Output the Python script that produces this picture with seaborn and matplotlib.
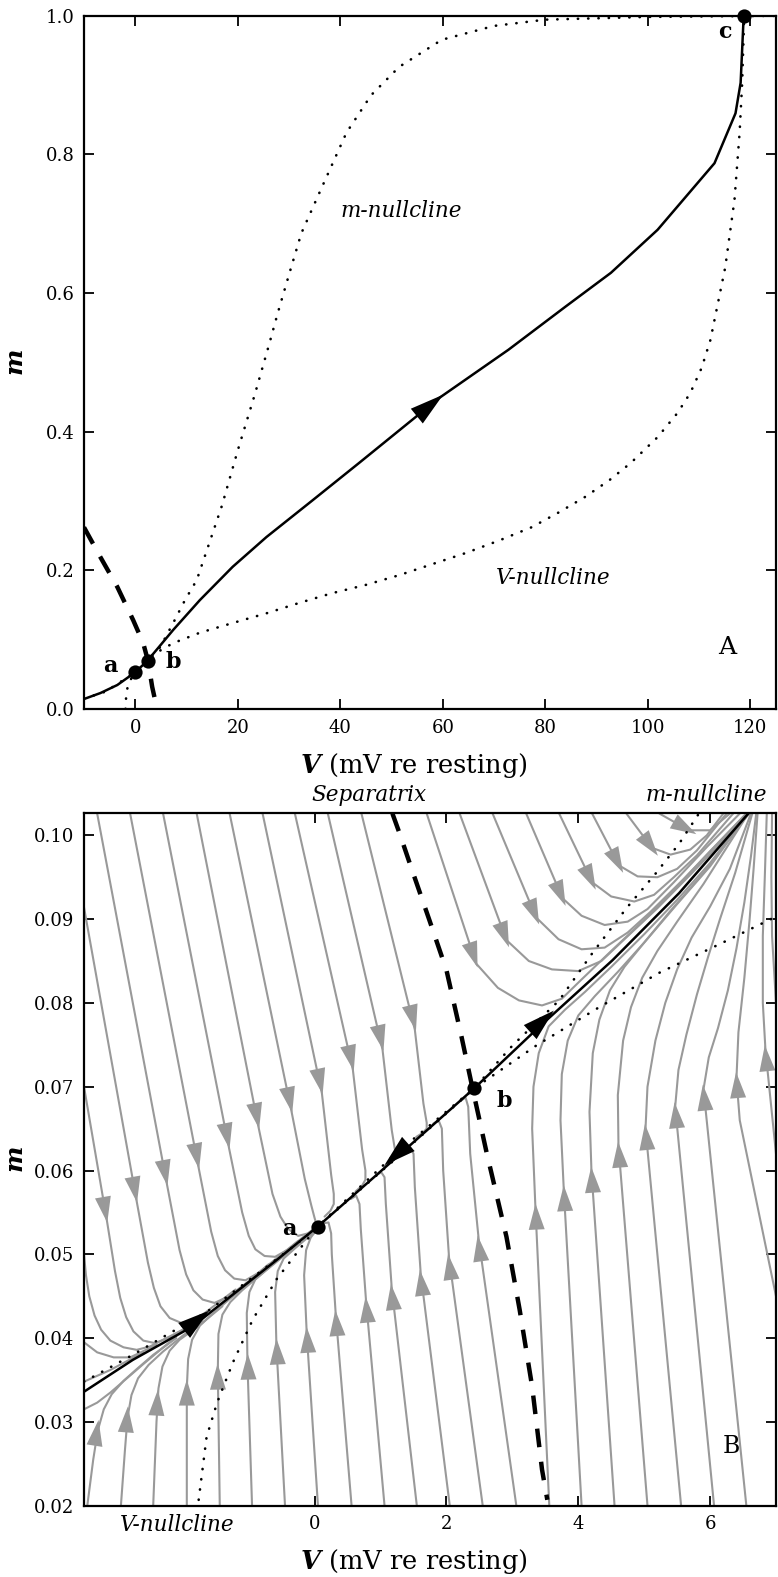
import numpy as np
import pandas as pd
import matplotlib
matplotlib.use('Agg')
import matplotlib.pyplot as plt
import seaborn as sns
from matplotlib.patches import Polygon
from matplotlib.transforms import IdentityTransform, blended_transform_factory

sns.set_theme(style='ticks')
plt.rcParams['font.family'] = ['DejaVu Serif']
plt.rcParams['text.color'] = 'black'
plt.rcParams['mathtext.fontset'] = 'custom'
plt.rcParams['mathtext.rm'] = 'DejaVu Serif'
plt.rcParams['mathtext.it'] = 'DejaVu Serif:italic'
plt.rcParams['mathtext.bf'] = 'DejaVu Serif:italic:bold'

# ---------------- panel A : whole V-m plane ----------------
a_mnull_V = [-10, -5.8, 0, 4.85, 7.4, 9.7, 12.0, 14.2, 16.9, 20.0, 23.3, 26.2, 27.8, 30.1,
             32.4, 35.9, 41.2, 46.0, 51.5, 59.8, 70, 80, 100, 125]
a_mnull_m = [0.015, 0.025, 0.053, 0.089, 0.124, 0.157, 0.186, 0.234, 0.293, 0.373, 0.453, 0.528,
             0.571, 0.629, 0.686, 0.744, 0.831, 0.885, 0.926, 0.965, 0.985, 0.994, 0.998, 0.9995]

a_vnull_V = [-1.9, -1.76, -1.48, -0.94, 0.05, 2.42, 5.0, 7.4, 12.6, 19.0, 25.6, 32.0, 38.4, 45.0,
             51.5, 58, 64.5, 71, 77.3, 82.5, 87.8, 92.5, 96.7, 101.9, 105.8, 108.3, 110.5, 112.2,
             115.1, 116.9, 117.9, 118.4, 118.8]
a_vnull_m = [0.0, 0.021, 0.032, 0.042, 0.053, 0.070, 0.085, 0.095, 0.110, 0.124, 0.138, 0.153,
             0.167, 0.179, 0.193, 0.209, 0.225, 0.243, 0.262, 0.283, 0.306, 0.330, 0.355, 0.392,
             0.427, 0.456, 0.492, 0.532, 0.637, 0.734, 0.831, 0.903, 1.0]

a_traj_V = [-10, -6.8, -3.5, 0.0, 2.4, 7.4, 12.6, 19.0, 25.6, 34.6, 43.7, 59.2, 72.8, 83.9,
            92.8, 101.9, 113.0, 117.1, 118.1, 118.7]
a_traj_m = [0.0144, 0.023, 0.0346, 0.053, 0.0698, 0.114, 0.157, 0.205, 0.248, 0.301, 0.355,
            0.448, 0.518, 0.580, 0.629, 0.691, 0.787, 0.859, 0.903, 1.0]

a_sep_V = [-10, -6.8, -3.5, -0.4, 1.55, 2.5, 3.3, 4.25]
a_sep_m = [0.262, 0.219, 0.176, 0.128, 0.095, 0.069, 0.032, 0.0]

a_points_V = [0.0, 2.42, 118.7]
a_points_m = [0.053, 0.0698, 1.0]
a_arrow = (57.5, 0.4378)

# ---------------- panel B : close-up near rest ----------------
b_traj_V = [-3.5, -2.76, -1.85, -1.24, -0.58, 0.045, 1.03, 2.42, 3.36, 4.52, 5.53, 6.58]
b_traj_m = [0.0336, 0.0374, 0.0414, 0.0452, 0.0493, 0.0533, 0.0601, 0.0698, 0.0768, 0.0851,
            0.0931, 0.1026]

b_mnull_V = [-3.5, -3.36, -2.76, -2.24, -1.64, -0.83, -0.23, 0.045, 1.2, 2.42, 3.0, 3.71, 4.21,
             4.73, 5.18, 5.53, 5.83]
b_mnull_m = [0.0348, 0.0354, 0.038, 0.0404, 0.0431, 0.0479, 0.0515, 0.0533, 0.0618, 0.0698,
             0.0749, 0.0803, 0.0859, 0.0913, 0.0955, 0.0990, 0.1026]

b_vnull_V = [-1.76, -1.64, -1.48, -1.24, -0.94, -0.58, -0.18, 0.045, 1.2, 2.42, 3.36, 4.32,
             5.23, 6.14, 7.0]
b_vnull_m = [0.0207, 0.0282, 0.0323, 0.0371, 0.0422, 0.047, 0.0511, 0.0533, 0.0612, 0.0698,
             0.0749, 0.0795, 0.0836, 0.0870, 0.0903]

b_sep_V = [1.18, 1.29, 1.48, 1.74, 2.0, 2.23, 2.39, 2.61, 2.91, 3.11, 3.30, 3.45, 3.53]
b_sep_m = [0.1026, 0.1002, 0.0958, 0.0899, 0.0839, 0.0759, 0.0700, 0.0621, 0.0521, 0.0434,
           0.0342, 0.0243, 0.0207]

b_points_V = [0.045, 2.42]
b_points_m = [0.0533, 0.0698]
b_arrows = [(-1.79, 0.0421, 1), (1.24, 0.0619, -1), (3.45, 0.0778, 1)]

# gray trajectories, each listed in the direction of flow; arrow = centre of its head
flow_upper_left = [
    [(-3.5, 0.0348), (-3.1, 0.0362), (-2.6, 0.0383)],
    [(-3.5, 0.0395), (-3.3, 0.0383), (-3.05, 0.0377), (-2.8, 0.0377), (-2.4, 0.0392)],
    [(-3.5, 0.050), (-3.47, 0.0475), (-3.42, 0.0450), (-3.34, 0.0427), (-3.24, 0.0410), (-3.1, 0.0397),
     (-2.9, 0.0389), (-2.7, 0.0386), (-2.5, 0.0390), (-2.0, 0.0410)],
    [(-3.5, 0.070), (-3.15, 0.0539), (-3.03, 0.0480), (-2.95, 0.0448), (-2.86, 0.0425), (-2.75, 0.0408),
     (-2.6, 0.0397), (-2.42, 0.0394), (-2.2, 0.0401), (-1.8, 0.0419)],
    [(-3.5, 0.0914), (-2.70, 0.0563), (-2.53, 0.0490), (-2.44, 0.0460), (-2.34, 0.0438), (-2.2, 0.0424),
     (-2.02, 0.0418), (-1.8, 0.0422), (-1.5, 0.0440), (-1.2, 0.0458)],
    [(-3.30, 0.1026), (-2.24, 0.0583), (-2.05, 0.0505), (-1.95, 0.0476), (-1.84, 0.0457), (-1.7, 0.0446),
     (-1.52, 0.0442), (-1.3, 0.0450), (-1.0, 0.0468), (-0.7, 0.0488)],
    [(-2.80, 0.1026), (-1.76, 0.0603), (-1.57, 0.0527), (-1.47, 0.0498), (-1.36, 0.0481), (-1.22, 0.0471),
     (-1.05, 0.0469), (-0.85, 0.0478), (-0.55, 0.0497), (-0.25, 0.0516)],
    [(-2.30, 0.1026), (-1.30, 0.0627), (-1.10, 0.0550), (-1.00, 0.0522), (-0.90, 0.0506), (-0.76, 0.0498),
     (-0.6, 0.0497), (-0.4, 0.0506), (-0.2, 0.0519), (0.0, 0.0531)],
    [(-1.79, 0.1026), (-0.85, 0.0651), (-0.64, 0.0572), (-0.52, 0.0545), (-0.40, 0.0530), (-0.25, 0.0522),
     (-0.1, 0.0525), (0.0, 0.0531)],
    [(-1.29, 0.1026), (-0.35, 0.0670), (-0.15, 0.0590), (-0.05, 0.0558), (0.0, 0.0543), (0.03, 0.0535)],
    [(-0.79, 0.1026), (0.11, 0.0692), (0.25, 0.0595), (0.29, 0.0572), (0.29, 0.0560), (0.24, 0.0552), (0.15, 0.0545)],
    [(-0.30, 0.1026), (0.58, 0.0720), (0.72, 0.0625), (0.77, 0.0600), (0.77, 0.0589), (0.72, 0.0582), (0.62, 0.0575)],
    [(0.20, 0.1026), (1.03, 0.0744), (1.17, 0.0648), (1.22, 0.0624), (1.22, 0.0616), (1.16, 0.0610), (1.06, 0.0605)],
    [(0.71, 0.1026), (1.52, 0.0768), (1.65, 0.0680), (1.70, 0.0657), (1.70, 0.0650), (1.64, 0.0645), (1.54, 0.0640)],
]
arrows_upper_left = [None, None, None, (-3.18, 0.0553), (-2.73, 0.0577), (-2.27, 0.0597),
                     (-1.79, 0.0617), (-1.33, 0.0641), (-0.88, 0.0665), (-0.38, 0.0684),
                     (0.08, 0.0706), (0.55, 0.0734), (1.00, 0.0758), (1.49, 0.0782)]

flow_upper_right = [
    [(1.70, 0.1026), (2.45, 0.0847), (2.78, 0.0818), (3.1, 0.0803), (3.45, 0.0797), (3.75, 0.0805),
     (4.05, 0.0828), (4.5, 0.0862), (5.0, 0.0899), (5.5, 0.0939), (6.0, 0.0981), (6.55, 0.1026)],
    [(2.20, 0.1026), (2.91, 0.0875), (3.25, 0.0850), (3.6, 0.0840), (4.0, 0.0838), (4.35, 0.0850),
     (4.7, 0.0876), (5.2, 0.0913), (5.7, 0.0953), (6.2, 0.0994), (6.6, 0.1026)],
    [(2.70, 0.1026), (3.36, 0.0902), (3.7, 0.0876), (4.05, 0.0864), (4.4, 0.0866), (4.75, 0.0884),
     (5.1, 0.0909), (5.6, 0.0948), (6.1, 0.0989), (6.55, 0.1026)],
    [(3.21, 0.1026), (3.76, 0.0925), (4.05, 0.0904), (4.4, 0.0893), (4.75, 0.0897), (5.05, 0.0912),
     (5.45, 0.0944), (5.95, 0.0986), (6.45, 0.1026)],
    [(3.71, 0.1026), (4.21, 0.0944), (4.5, 0.0927), (4.85, 0.0921), (5.15, 0.0929), (5.45, 0.0950),
     (5.8, 0.0976), (6.35, 0.1026)],
    [(4.21, 0.1026), (4.62, 0.0964), (4.9, 0.0951), (5.2, 0.0950), (5.5, 0.0960), (5.8, 0.0982), (6.25, 0.1026)],
    [(4.73, 0.1026), (5.12, 0.0985), (5.4, 0.0977), (5.7, 0.0983), (5.95, 0.1000), (6.2, 0.1026)],
    [(5.23, 0.1026), (5.68, 0.1006), (6.0, 0.1006), (6.3, 0.1026)],
]
arrows_upper_right = [(2.41, 0.0857), (2.88, 0.0881), (3.33, 0.0908), (3.73, 0.0930),
                      (4.18, 0.0949), (4.59, 0.0969), (5.09, 0.0988), (5.62, 0.1009)]

flow_lower = [
    [(-3.5, 0.0315), (-3.3, 0.0323), (-3.1, 0.0335), (-2.85, 0.0352), (-2.6, 0.0369), (-2.1, 0.0402)],
    [(-3.45, 0.020), (-3.36, 0.0255), (-3.29, 0.0290), (-3.2, 0.0315), (-3.08, 0.0333), (-2.9, 0.0349),
     (-2.7, 0.0363), (-2.45, 0.0380), (-2.1, 0.0400)],
    [(-2.94, 0.020), (-2.88, 0.0265), (-2.84, 0.0305), (-2.78, 0.0332), (-2.68, 0.0352), (-2.52, 0.0368),
     (-2.3, 0.0384), (-2.0, 0.0403), (-1.7, 0.0420)],
    [(-2.45, 0.020), (-2.40, 0.030), (-2.37, 0.0340), (-2.31, 0.0366), (-2.2, 0.0385), (-2.05, 0.0398),
     (-1.8, 0.0412), (-1.4, 0.0438)],
    [(-1.94, 0.020), (-1.94, 0.034), (-1.92, 0.0375), (-1.86, 0.0398), (-1.74, 0.0415), (-1.55, 0.0429),
     (-1.3, 0.0446), (-1.0, 0.0465)],
    [(-1.44, 0.020), (-1.47, 0.036), (-1.46, 0.0405), (-1.40, 0.0428), (-1.28, 0.0443), (-1.1, 0.0457),
     (-0.8, 0.0477), (-0.5, 0.0497)],
    [(-0.95, 0.020), (-1.02, 0.037), (-1.03, 0.043), (-0.99, 0.0455), (-0.9, 0.0470), (-0.75, 0.0480),
     (-0.5, 0.0496), (-0.25, 0.0512)],
    [(-0.45, 0.020), (-0.58, 0.039), (-0.60, 0.0455), (-0.56, 0.0480), (-0.47, 0.0495), (-0.3, 0.0507),
     (0.0, 0.0527)],
    [(0.05, 0.020), (-0.12, 0.0405), (-0.16, 0.0475), (-0.13, 0.0505), (-0.06, 0.0520), (0.02, 0.0528)],
    [(0.56, 0.020), (0.32, 0.0428), (0.26, 0.050), (0.25, 0.0525), (0.21, 0.0538), (0.13, 0.0537)],
    [(1.06, 0.020), (0.78, 0.0444), (0.70, 0.0530), (0.68, 0.0560), (0.63, 0.0570), (0.55, 0.0566)],
    [(1.55, 0.020), (1.17, 0.0459), (1.08, 0.0560), (1.06, 0.0592), (1.01, 0.0598), (0.93, 0.0594)],
    [(2.05, 0.020), (1.61, 0.0476), (1.52, 0.0580), (1.50, 0.0620), (1.45, 0.0628), (1.37, 0.0624)],
    [(2.55, 0.020), (2.04, 0.0495), (1.95, 0.060), (1.93, 0.0650), (1.88, 0.0660), (1.80, 0.0656)],
    [(3.06, 0.020), (2.49, 0.0517), (2.36, 0.062), (2.33, 0.0676), (2.29, 0.0687), (2.21, 0.0683)],
    [(3.56, 0.020), (3.35, 0.0555), (3.30, 0.065), (3.32, 0.070), (3.40, 0.0740), (3.55, 0.0772),
     (3.8, 0.0792), (4.1, 0.0813), (4.5, 0.0843), (5.0, 0.0882), (5.5, 0.0923), (6.0, 0.0967), (6.58, 0.1026)],
    [(4.05, 0.020), (3.78, 0.0577), (3.73, 0.066), (3.75, 0.0715), (3.84, 0.0755), (4.0, 0.0785),
     (4.25, 0.0808), (4.6, 0.0837), (5.0, 0.0872), (5.5, 0.0918), (6.0, 0.0963), (6.58, 0.1026)],
    [(4.55, 0.020), (4.20, 0.0599), (4.17, 0.067), (4.22, 0.0740), (4.32, 0.0780), (4.48, 0.0815),
     (4.7, 0.0843), (5.0, 0.0872), (5.4, 0.0910), (5.9, 0.0955), (6.58, 0.1026)],
    [(5.05, 0.020), (4.61, 0.0629), (4.60, 0.069), (4.68, 0.0755), (4.80, 0.0795), (4.97, 0.0830),
     (5.2, 0.0862), (5.5, 0.0897), (5.9, 0.0942), (6.58, 0.1026)],
    [(5.56, 0.020), (5.02, 0.0650), (5.05, 0.070), (5.17, 0.0755), (5.32, 0.0800), (5.5, 0.0840),
     (5.72, 0.0878), (6.0, 0.0915), (6.3, 0.0960), (6.62, 0.1026)],
    [(6.06, 0.020), (5.47, 0.0676), (5.52, 0.072), (5.64, 0.0762), (5.80, 0.0810), (5.97, 0.0855),
     (6.15, 0.0900), (6.38, 0.0955), (6.64, 0.1026)],
    [(6.55, 0.020), (5.90, 0.0697), (5.98, 0.0735), (6.12, 0.0770), (6.27, 0.0815), (6.40, 0.0865),
     (6.52, 0.0920), (6.62, 0.0975), (6.70, 0.1026)],
    [(7.0, 0.045), (6.45, 0.0660), (6.40, 0.0710), (6.43, 0.0765), (6.52, 0.0830), (6.60, 0.0900),
     (6.66, 0.0960), (6.72, 0.1026)],
    [(7.0, 0.062), (6.84, 0.0744), (6.80, 0.080), (6.80, 0.088), (6.83, 0.095), (6.86, 0.1026)],
    [(7.0, 0.080), (6.94, 0.088), (6.93, 0.095), (6.94, 0.1026)],
]
arrows_lower = [None, (-3.31, 0.0287), (-2.85, 0.0303), (-2.39, 0.0323), (-1.94, 0.0335),
                (-1.47, 0.0354), (-1.01, 0.0366), (-0.57, 0.0384), (-0.11, 0.0398),
                (0.33, 0.0418), (0.79, 0.0434), (1.18, 0.0449), (1.62, 0.0466), (2.05, 0.0485),
                (2.50, 0.0507), (3.36, 0.0545), (3.79, 0.0567), (4.21, 0.0589), (4.62, 0.0619),
                (5.03, 0.0640), (5.48, 0.0666), (5.91, 0.0687), (6.41, 0.0702), (6.85, 0.0734), None]

GRAY = '#999999'
DOT = (0, (0.1, 3.8))
DASH = (0, (4.2, 3.3))


def arrow_head(ax, cV, cm, Vc, mc, color, length, width, sign=1, z=3):
    pts = ax.transData.transform(np.column_stack([cV, cm]))
    c = ax.transData.transform((Vc, mc))
    best = None
    for p0, p1 in zip(pts[:-1], pts[1:]):
        d = p1 - p0
        L2 = d @ d
        if L2 == 0:
            continue
        t = np.clip((c - p0) @ d / L2, 0, 1)
        dist = np.linalg.norm(p0 + t * d - c)
        if best is None or dist < best[0]:
            best = (dist, d / np.sqrt(L2))
    u = best[1] * sign
    n = np.array([-u[1], u[0]])
    tip = c + u * length / 2
    base = c - u * length / 2
    tri = Polygon([tip, base + n * width / 2, base - n * width / 2], closed=True,
                  transform=IdentityTransform(), facecolor=color, edgecolor='none', zorder=z)
    ax.add_patch(tri)


fig = plt.figure(figsize=(7.78, 15.77), dpi=100)
axA = fig.add_axes([84 / 778, 1 - 709 / 1577, 692 / 778, 693.5 / 1577])
axB = fig.add_axes([84 / 778, 1 - 1505.7 / 1577, 692 / 778, 693 / 1577])

for ax in (axA, axB):
    ax.set_facecolor('white')
    for s in ax.spines.values():
        s.set_linewidth(1.6)
        s.set_color('black')
    ax.tick_params(direction='in', length=7, width=1.3, top=True, right=True,
                   labelsize=13, colors='black', pad=7)

# ---- panel A ----
sns.lineplot(x=a_mnull_V, y=a_mnull_m, ax=axA, sort=False, color='black', lw=1.9,
             linestyle=DOT, dash_capstyle='round', zorder=3)
sns.lineplot(x=a_vnull_V, y=a_vnull_m, ax=axA, sort=False, color='black', lw=1.9,
             linestyle=DOT, dash_capstyle='round', zorder=3)
sns.lineplot(x=a_traj_V, y=a_traj_m, ax=axA, sort=False, color='black', lw=1.8, zorder=4)
sns.lineplot(x=a_sep_V, y=a_sep_m, ax=axA, sort=False, color='black', lw=3.2,
             linestyle=DASH, zorder=4)
sns.scatterplot(x=a_points_V, y=a_points_m, ax=axA, s=105, color='black', linewidth=0,
                zorder=6, clip_on=False)

axA.set_xlim(-10, 125)
axA.set_ylim(0, 1)
axA.set_xticks(range(0, 121, 20))
axA.set_yticks([0, 0.2, 0.4, 0.6, 0.8, 1.0])
axA.set_yticklabels(['0.0', '0.2', '0.4', '0.6', '0.8', '1.0'])
axA.set_xlabel('')
axA.set_ylabel('')
arrow_head(axA, a_traj_V, a_traj_m, *a_arrow, color='black', length=34, width=19, z=5)

axA.text(51.9, 0.718, 'm-nullcline', fontsize=15.5, fontstyle='italic', ha='center', va='center')
axA.text(81.6, 0.189, 'V-nullcline', fontsize=15.5, fontstyle='italic', ha='center', va='center')
axA.text(115.5, 0.088, 'A', fontsize=18, ha='center', va='center')
axA.text(-4.9, 0.062, 'a', fontsize=16, fontweight='bold', ha='center', va='center')
axA.text(7.4, 0.068, 'b', fontsize=16, fontweight='bold', ha='center', va='center')
axA.text(115.0, 0.976, 'c', fontsize=16, fontweight='bold', ha='center', va='center')
axA.text(0.477, -0.081, r'$\mathbf{V}$ (mV re resting)', transform=axA.transAxes,
         fontsize=18.5, ha='center', va='center')
axA.text(-0.098, 0.5, r'$\mathbf{m}$', transform=axA.transAxes, fontsize=18,
         rotation=90, ha='center', va='center')

# ---- panel B ----
all_curves = flow_upper_left + flow_upper_right + flow_lower
all_arrows = arrows_upper_left + arrows_upper_right + arrows_lower
rows = []
for k, curve in enumerate(all_curves):
    for V, m in curve:
        rows.append((k, V, m))
flow_df = pd.DataFrame(rows, columns=['curve', 'V', 'm'])
sns.lineplot(data=flow_df, x='V', y='m', units='curve', estimator=None, sort=False,
             color=GRAY, lw=1.5, ax=axB, zorder=1)

sns.lineplot(x=b_mnull_V, y=b_mnull_m, ax=axB, sort=False, color='black', lw=1.9,
             linestyle=DOT, dash_capstyle='round', zorder=3)
sns.lineplot(x=b_vnull_V, y=b_vnull_m, ax=axB, sort=False, color='black', lw=1.9,
             linestyle=DOT, dash_capstyle='round', zorder=3)
sns.lineplot(x=b_traj_V, y=b_traj_m, ax=axB, sort=False, color='black', lw=1.8, zorder=4)
sns.lineplot(x=b_sep_V, y=b_sep_m, ax=axB, sort=False, color='black', lw=3.2,
             linestyle=DASH, zorder=4)
sns.scatterplot(x=b_points_V, y=b_points_m, ax=axB, s=105, color='black', linewidth=0, zorder=6)

axB.set_xlim(-3.5, 7)
axB.set_ylim(0.02, 0.1027)
axB.set_xticks([0, 2, 4, 6])
b_yticks = [0.02, 0.03, 0.04, 0.05, 0.06, 0.07, 0.08, 0.09, 0.10]
axB.set_yticks(b_yticks)
axB.set_yticklabels(['%.2f' % v for v in b_yticks])
axB.set_xlabel('')
axB.set_ylabel('')

for curve, arr in zip(all_curves, all_arrows):
    if arr is None:
        continue
    cV = [p[0] for p in curve]
    cm = [p[1] for p in curve]
    arrow_head(axB, cV, cm, arr[0], arr[1], color=GRAY, length=26, width=16, z=2)
for Vc, mc, sgn in b_arrows:
    arrow_head(axB, b_traj_V, b_traj_m, Vc, mc, color='black', length=32, width=19,
               sign=sgn, z=5)

top = blended_transform_factory(axB.transData, axB.transAxes)
axB.text(0.83, 1.026, 'Separatrix', transform=top, fontsize=15.5, fontstyle='italic',
         ha='center', va='center')
axB.text(6.86, 1.026, 'm-nullcline', transform=top, fontsize=15.5, fontstyle='italic',
         ha='right', va='center')
axB.text(-2.08, -0.028, 'V-nullcline', transform=top, fontsize=15.5, fontstyle='italic',
         ha='center', va='center')
axB.text(6.32, 0.0271, 'B', fontsize=17, ha='center', va='center')
axB.text(-0.38, 0.0530, 'a', fontsize=16, fontweight='bold', ha='center', va='center')
axB.text(2.88, 0.0683, 'b', fontsize=16, fontweight='bold', ha='center', va='center')
axB.text(0.477, -0.080, r'$\mathbf{V}$ (mV re resting)', transform=axB.transAxes,
         fontsize=18.5, ha='center', va='center')
axB.text(-0.098, 0.5, r'$\mathbf{m}$', transform=axB.transAxes, fontsize=18,
         rotation=90, ha='center', va='center')

fig.savefig('out.png', dpi=100)
